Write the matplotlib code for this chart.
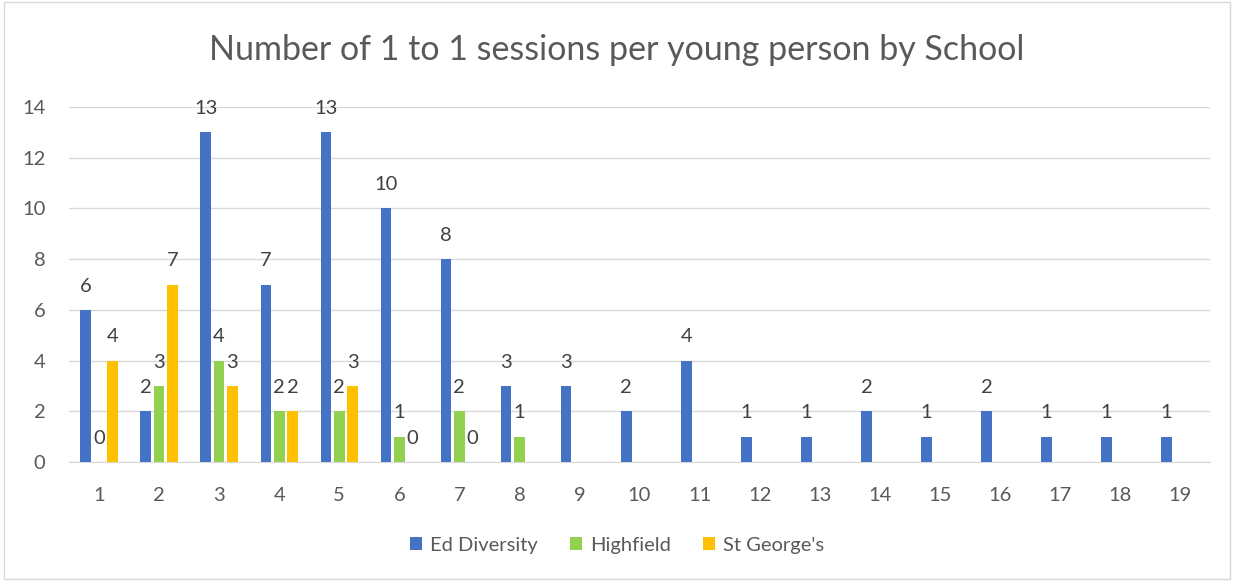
import matplotlib
matplotlib.use("Agg")
import matplotlib.pyplot as plt
import numpy as np

plt.rcParams['font.family'] = ['Lato', 'DejaVu Sans']

categories = [str(i) for i in range(1, 20)]
ed_diversity = [6, 2, 13, 7, 13, 10, 8, 3, 3, 2, 4, 1, 1, 2, 1, 2, 1, 1, 1]
highfield = [0, 3, 4, 2, 2, 1, 2, 1] + [None] * 11
st_georges = [4, 7, 3, 2, 3, 0, 0] + [None] * 12

series = [
    ("Ed Diversity", ed_diversity, "#4472C4"),
    ("Highfield", highfield, "#92D050"),
    ("St George's", st_georges, "#FFC000"),
]

text_color = "#595959"
fs = 14.5
fig = plt.figure(figsize=(12.34, 5.81), dpi=100)
ax = fig.add_axes([69 / 1234, 1 - 462 / 581, (1210 - 69) / 1234, (462 - 107) / 581])

x = np.arange(len(categories))
pitch = 0.222
width = 0.178
for i, (name, vals, color) in enumerate(series):
    xs = [xi + (i - 1) * pitch for xi, v in zip(x, vals) if v is not None]
    vs = [v for v in vals if v is not None]
    ax.bar(xs, vs, width=width, color=color, label=name, zorder=3)
    for xi, v in zip(xs, vs):
        ax.text(xi, v + 0.6, str(v), ha="center", va="bottom",
                fontsize=fs, color="#404040")

ax.set_xlim(-0.5, len(categories) - 0.5)
ax.set_ylim(0, 14)
ax.set_yticks(range(0, 15, 2))
ax.set_xticks(x)
ax.set_xticklabels(categories)
ax.tick_params(axis="both", length=0, labelsize=fs, colors=text_color)
ax.tick_params(axis="x", pad=18)
ax.tick_params(axis="y", pad=17)
ax.grid(axis="y", color="#D9D9D9", linewidth=1, zorder=0)
for s in ["top", "right", "left"]:
    ax.spines[s].set_visible(False)
ax.spines["bottom"].set_color("#D9D9D9")

fig.text(0.5, 1 - 50 / 581, "Number of 1 to 1 sessions per young person by School",
         ha="center", va="center", fontsize=24.5, color=text_color)

fig.legend(loc="center", bbox_to_anchor=(0.5, 1 - 545 / 581), ncol=3,
           frameon=False, fontsize=fs, labelcolor=text_color,
           handlelength=0.6, handleheight=0.6, columnspacing=1.6,
           handletextpad=0.4)

border = plt.Rectangle((0.003, 0.004), 0.994, 0.992, transform=fig.transFigure,
                       fill=False, edgecolor="#D9D9D9", linewidth=1)
fig.patches.append(border)

fig.savefig("out.png", dpi=100)
